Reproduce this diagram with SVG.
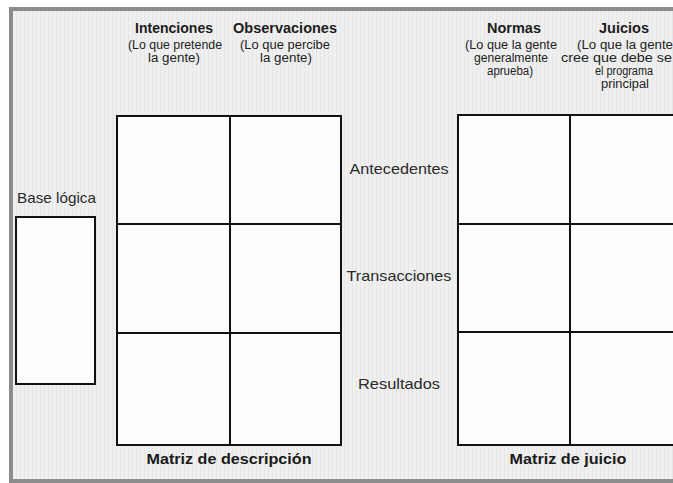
<svg xmlns="http://www.w3.org/2000/svg" width="673" height="483" viewBox="0 0 673 483">
  <defs>
    <pattern id="stripes" x="0" y="0" width="4" height="4" patternUnits="userSpaceOnUse">
      <rect width="4" height="4" fill="#efefef"/>
      <rect x="0" width="1" height="4" fill="#e7e7e7"/>
    </pattern>
    <style>
      .cell { fill: #fdfdfd; stroke: #111; stroke-width: 2; }
      .grid { stroke: #111; stroke-width: 2; fill: none; }
      .hdr { font-family: "Liberation Sans Narrow", "Liberation Sans", Arial, sans-serif; font-size: 15px; font-weight: bold; fill: #1c1c1c; text-anchor: middle; }
      .sub { font-family: "Liberation Sans Narrow", "Liberation Sans", Arial, sans-serif; font-size: 12px; fill: #222; text-anchor: middle; }
      .row { font-family: "Liberation Sans Narrow", "Liberation Sans", Arial, sans-serif; font-size: 15px; fill: #2a2a2a; text-anchor: middle; }
      .cap { font-family: "Liberation Sans Narrow", "Liberation Sans", Arial, sans-serif; font-size: 15px; font-weight: bold; fill: #1a1a1a; text-anchor: middle; }
      .lbl { font-family: "Liberation Sans Narrow", "Liberation Sans", Arial, sans-serif; font-size: 15px; fill: #2a2a2a; }
    </style>
  </defs>

  <!-- page background and frame -->
  <rect x="0" y="0" width="673" height="483" fill="#ffffff"/>
  <rect x="9" y="7" width="664" height="476" fill="#8c8c8c"/>
  <rect x="13" y="11" width="660" height="468" fill="url(#stripes)"/>

  <!-- column headers -->
  <g id="headers">
    <text class="hdr" x="174" y="33" textLength="78" lengthAdjust="spacingAndGlyphs">Intenciones</text>
    <text class="sub" x="175" y="49" textLength="94" lengthAdjust="spacingAndGlyphs">(Lo que pretende</text>
    <text class="sub" x="174" y="62" textLength="52" lengthAdjust="spacingAndGlyphs">la gente)</text>

    <text class="hdr" x="285" y="33" textLength="104" lengthAdjust="spacingAndGlyphs">Observaciones</text>
    <text class="sub" x="285" y="49" textLength="90" lengthAdjust="spacingAndGlyphs">(Lo que percibe</text>
    <text class="sub" x="286" y="62" textLength="52" lengthAdjust="spacingAndGlyphs">la gente)</text>

    <text class="hdr" x="514" y="33" textLength="54" lengthAdjust="spacingAndGlyphs">Normas</text>
    <text class="sub" x="511" y="49" textLength="92" lengthAdjust="spacingAndGlyphs">(Lo que la gente</text>
    <text class="sub" x="511" y="62" textLength="74" lengthAdjust="spacingAndGlyphs">generalmente</text>
    <text class="sub" x="510" y="75" textLength="46" lengthAdjust="spacingAndGlyphs">aprueba)</text>

    <text class="hdr" x="624" y="33" textLength="50" lengthAdjust="spacingAndGlyphs">Juicios</text>
    <text class="sub" x="577" y="49" style="text-anchor:start" textLength="96" lengthAdjust="spacingAndGlyphs">(Lo que la gente</text>
    <text class="sub" x="561" y="62" style="text-anchor:start" textLength="111" lengthAdjust="spacingAndGlyphs">cree que debe se</text>
    <text class="sub" x="624" y="75" textLength="58" lengthAdjust="spacingAndGlyphs">el programa</text>
    <text class="sub" x="625" y="88" textLength="48" lengthAdjust="spacingAndGlyphs">principal</text>
  </g>

  <!-- Base lógica -->
  <g id="base-logica">
    <text class="lbl" x="17" y="203" textLength="79" lengthAdjust="spacingAndGlyphs">Base lógica</text>
    <rect class="cell" x="16" y="217" width="79" height="167"/>
  </g>

  <!-- Matriz de descripción -->
  <g id="matriz-descripcion">
    <rect class="cell" x="117" y="116" width="224" height="329"/>
    <line class="grid" x1="230" y1="116" x2="230" y2="445"/>
    <line class="grid" x1="117" y1="224" x2="341" y2="224"/>
    <line class="grid" x1="117" y1="333" x2="341" y2="333"/>
    <text class="cap" x="229" y="464" textLength="165" lengthAdjust="spacingAndGlyphs">Matriz de descripción</text>
  </g>

  <!-- row labels -->
  <g id="row-labels">
    <text class="row" x="399" y="174" textLength="99" lengthAdjust="spacingAndGlyphs">Antecedentes</text>
    <text class="row" x="399" y="281" textLength="105" lengthAdjust="spacingAndGlyphs">Transacciones</text>
    <text class="row" x="399" y="389" textLength="82" lengthAdjust="spacingAndGlyphs">Resultados</text>
  </g>

  <!-- Matriz de juicio -->
  <g id="matriz-juicio">
    <rect class="cell" x="458" y="115" width="240" height="330"/>
    <line class="grid" x1="570" y1="115" x2="570" y2="445"/>
    <line class="grid" x1="458" y1="224" x2="698" y2="224"/>
    <line class="grid" x1="458" y1="332" x2="698" y2="332"/>
    <text class="cap" x="568" y="464" textLength="117" lengthAdjust="spacingAndGlyphs">Matriz de juicio</text>
  </g>

  <g id="connectors"/>
</svg>
